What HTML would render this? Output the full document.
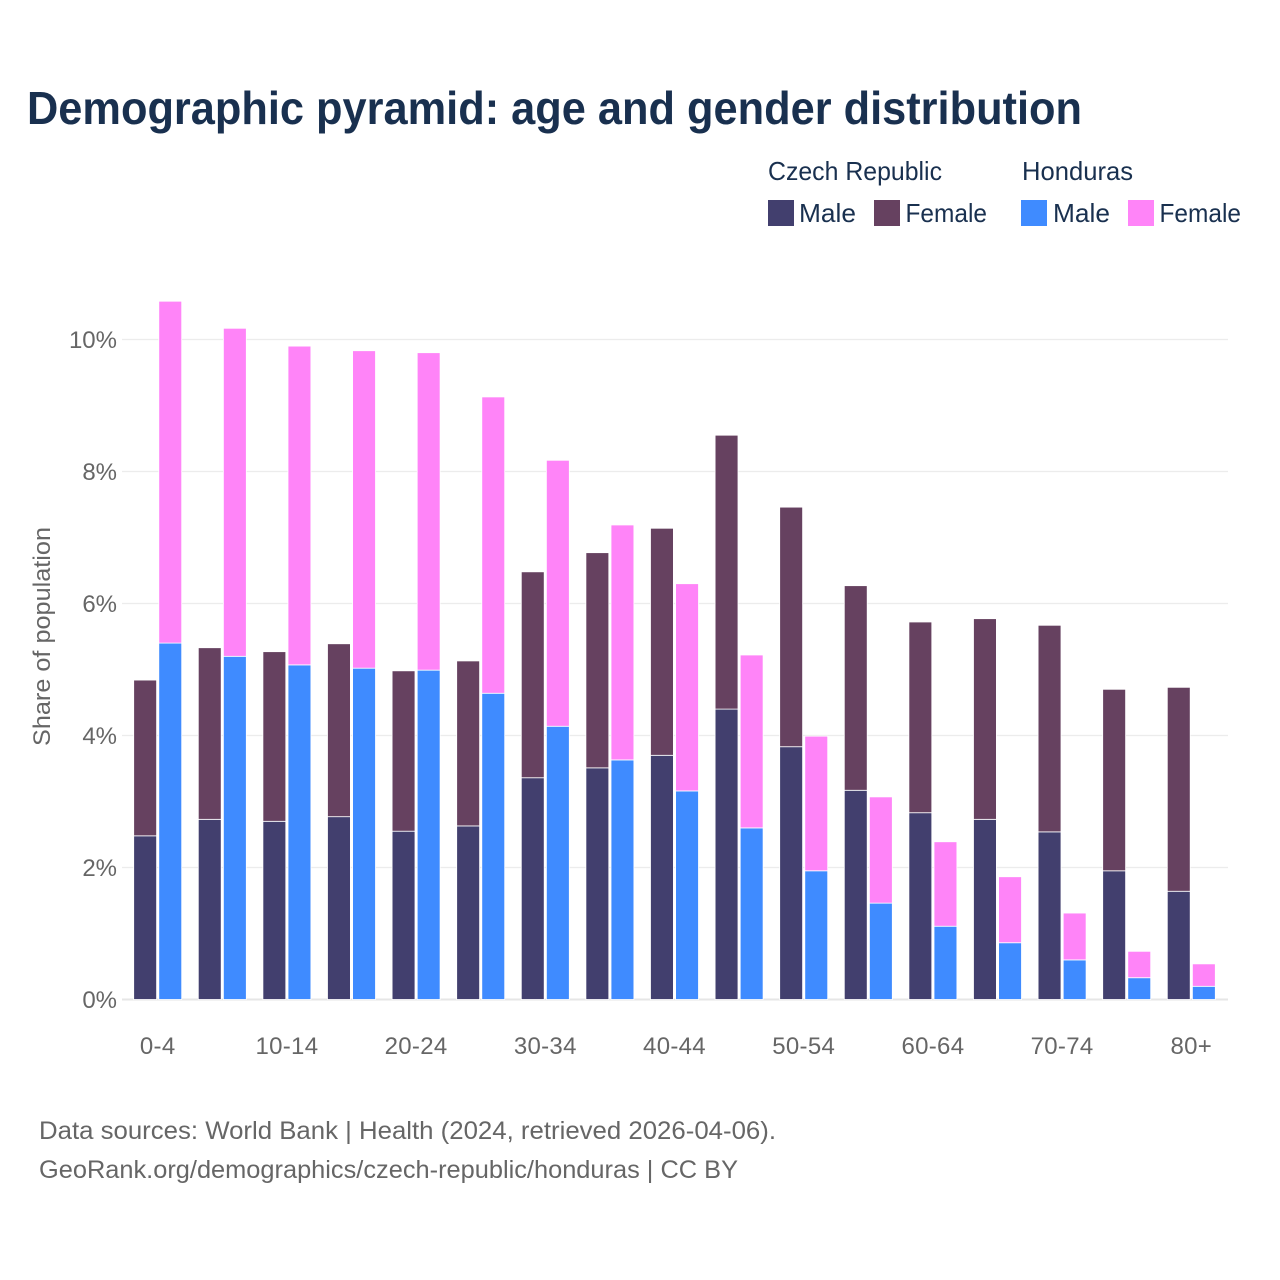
<!DOCTYPE html>
<html lang="en">
<head>
<meta charset="utf-8">
<title>Demographic pyramid</title>
<style>
html,body{margin:0;padding:0;background:#fff;}
svg{display:block;}
text{font-family:"Liberation Sans",Arial,sans-serif;}
</style>
</head>
<body>
<svg id="chart" width="1280" height="1280" viewBox="0 0 1280 1280" xmlns="http://www.w3.org/2000/svg">
  <rect x="0" y="0" width="1280" height="1280" fill="#ffffff"/>
  <text x="27" y="124" font-size="46" font-weight="700" fill="#19304f" textLength="1055" lengthAdjust="spacingAndGlyphs">Demographic pyramid: age and gender distribution</text>

  <g>
    <text x="768" y="180" font-size="26" fill="#19304f" textLength="174" lengthAdjust="spacingAndGlyphs">Czech Republic</text>
    <text x="1022" y="180" font-size="26" fill="#19304f" textLength="111" lengthAdjust="spacingAndGlyphs">Honduras</text>
    <rect x="768" y="200" width="26" height="26" fill="#423f6e"/>
    <text x="799" y="222" font-size="26" fill="#19304f" textLength="57" lengthAdjust="spacingAndGlyphs">Male</text>
    <rect x="874" y="200" width="26" height="26" fill="#664160"/>
    <text x="905.5" y="222" font-size="26" fill="#19304f" textLength="81.5" lengthAdjust="spacingAndGlyphs">Female</text>
    <rect x="1021" y="200" width="26" height="26" fill="#3f8bff"/>
    <text x="1053" y="222" font-size="26" fill="#19304f" textLength="57" lengthAdjust="spacingAndGlyphs">Male</text>
    <rect x="1128" y="200" width="26" height="26" fill="#ff84f8"/>
    <text x="1159.5" y="222" font-size="26" fill="#19304f" textLength="81.5" lengthAdjust="spacingAndGlyphs">Female</text>
  </g>

  <g id="grid"></g>
  <g id="bars"></g>
  <g id="yticks"></g>
  <g id="xticks"></g>

  <text transform="translate(50,746) rotate(-90)" x="0" y="0" font-size="24" fill="#666666" textLength="219" lengthAdjust="spacingAndGlyphs">Share of population</text>

  <text x="39" y="1139" font-size="25" fill="#666666" textLength="737" lengthAdjust="spacingAndGlyphs">Data sources: World Bank | Health (2024, retrieved 2026-04-06).</text>
  <text x="39" y="1178" font-size="25" fill="#666666" textLength="699" lengthAdjust="spacingAndGlyphs">GeoRank.org/demographics/czech-republic/honduras | CC BY</text>
</svg>
<script>
const ageGroups = ["0-4","5-9","10-14","15-19","20-24","25-29","30-34","35-39","40-44","45-49","50-54","55-59","60-64","65-69","70-74","75-79","80+"];
const visibleAgeLabels = ["0-4","10-14","20-24","30-34","40-44","50-54","60-64","70-74","80+"];
const czechMale = [2.48,2.73,2.70,2.77,2.55,2.63,3.36,3.51,3.70,4.40,3.83,3.17,2.83,2.73,2.54,1.95,1.64];
const czechFemale = [2.36,2.60,2.57,2.62,2.43,2.50,3.12,3.26,3.44,4.15,3.63,3.10,2.89,3.04,3.13,2.75,3.09];
const hondurasMale = [5.40,5.20,5.07,5.02,4.99,4.64,4.14,3.63,3.16,2.60,1.95,1.46,1.11,0.86,0.60,0.33,0.20];
const hondurasFemale = [5.18,4.97,4.83,4.81,4.81,4.49,4.03,3.56,3.14,2.62,2.04,1.61,1.28,1.00,0.71,0.40,0.34];
const yTickValues = [0,2,4,6,8,10];

const SVG_NS = "http://www.w3.org/2000/svg";
const yScale = function (v) { return 999.5 - v * 66; };
const groupCenter = function (i) { return 157.7 + i * 64.6; };
const BAR_W = 22.9;
const BAR_GAP = 1.1;

function make(tag, attrs, parent) {
  const el = document.createElementNS(SVG_NS, tag);
  Object.keys(attrs).forEach(function (k) { el.setAttribute(k, attrs[k]); });
  parent.appendChild(el);
  return el;
}

const gridG = document.getElementById("grid");
const barsG = document.getElementById("bars");
const yG = document.getElementById("yticks");
const xG = document.getElementById("xticks");

yTickValues.forEach(function (v) {
  const line = make("line", { x1: 122, x2: 1228, y1: yScale(v), y2: yScale(v), stroke: v === 0 ? "#e6e6e6" : "#ececec", "stroke-width": v === 0 ? 2 : 1.2 }, gridG);
  
  
  const t = make("text", { x: 117, y: yScale(v) + 8.5, "text-anchor": "end", "font-size": 24, fill: "#666666" }, yG);
  t.textContent = v + "%";
  
  
});

function drawSegment(x, bottom, value, color, name) {
  const top = bottom + value;
  const r = make("rect", { x: x, y: yScale(top), width: BAR_W, height: yScale(bottom) - yScale(top), fill: color, stroke: "#ffffff", "stroke-width": 0.8 }, barsG);
  
  
}

ageGroups.forEach(function (age, i) {
  const c = groupCenter(i);
  const xCz = c - BAR_W - BAR_GAP;
  const xHn = c + BAR_GAP;
  drawSegment(xCz, 0, czechMale[i], "#423f6e", "bar-czech-male-" + age);
  drawSegment(xCz, czechMale[i], czechFemale[i], "#664160", "bar-czech-female-" + age);
  drawSegment(xHn, 0, hondurasMale[i], "#3f8bff", "bar-honduras-male-" + age);
  drawSegment(xHn, hondurasMale[i], hondurasFemale[i], "#ff84f8", "bar-honduras-female-" + age);
  if (visibleAgeLabels.indexOf(age) !== -1) {
    const t = make("text", { x: c, y: 1054, "text-anchor": "middle", "font-size": 24, "letter-spacing": 0.3, fill: "#666666" }, xG);
    t.textContent = age;
    
    
  }
});
</script>
</body>
</html>
